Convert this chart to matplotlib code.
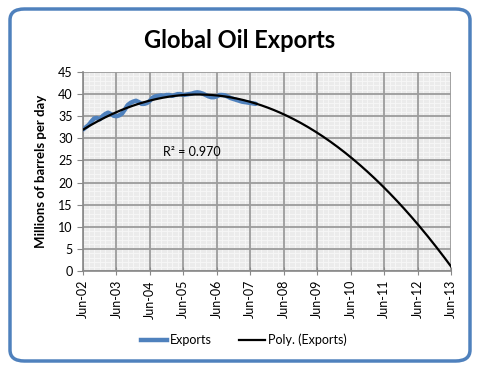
import numpy as np
import matplotlib
matplotlib.use("Agg")
import matplotlib.pyplot as plt
from matplotlib.patches import FancyBboxPatch
from matplotlib.lines import Line2D

plt.rcParams['font.family'] = ['Lato', 'DejaVu Sans']

# Tick labels (yearly, June)
year_labels = ["Jun-02", "Jun-03", "Jun-04", "Jun-05", "Jun-06", "Jun-07",
               "Jun-08", "Jun-09", "Jun-10", "Jun-11", "Jun-12", "Jun-13"]

# Monthly exports, Jun-02 .. Aug-07 (million barrels per day)
exports = [32.0, 32.5, 33.0, 33.8, 34.5, 34.6, 34.3, 35.0, 35.5, 35.8, 35.5, 35.1,
           35.0, 35.2, 35.6, 36.5, 37.5, 38.0, 38.3, 38.5, 38.2, 37.8, 37.8, 38.0,
           38.5, 39.2, 39.5, 39.6, 39.7, 39.6, 39.8, 39.8, 39.6, 39.8, 40.0, 40.0,
           39.8, 39.9, 40.0, 40.1, 40.3, 40.4, 40.3, 40.1, 39.8, 39.5, 39.3, 39.3,
           39.5, 39.8, 39.8, 39.7, 39.4, 39.1, 38.9, 38.7, 38.5, 38.3, 38.2, 38.1,
           38.0, 37.9, 37.8]

# Polynomial trend values read at each June
trend_values = [32.0, 35.9, 38.5, 39.8, 39.7, 38.2, 35.4, 31.3, 25.8, 18.9, 10.6, 1.0]

r2_text = "R² = 0.970"

fig = plt.figure(figsize=(4.8, 3.69), dpi=100)

# Rounded blue frame
frame = FancyBboxPatch((10/480, 8/369), 460/480, 352/369,
                       boxstyle="round,pad=0,rounding_size=0.03",
                       transform=fig.transFigure, facecolor='none',
                       edgecolor='#4F81BD', linewidth=2.5, zorder=0)
fig.patches.append(frame)

fig.text(0.5, 1 - 40/369, "Global Oil Exports", ha='center', va='center',
         fontsize=17, fontweight='bold')

ax = fig.add_axes([83/480, 1 - 271/369, (451 - 83)/480, (271 - 72)/369])
ax.set_facecolor('#ebebeb')

x_exp = np.arange(len(exports)) / 12.0
x_years = np.arange(len(year_labels))

coef = np.polyfit(x_years, trend_values, 2)
xt = np.linspace(0, len(year_labels) - 1, 300)
yt = np.polyval(coef, xt)

ax.plot(x_exp, exports, color='#4F81BD', linewidth=3.2, solid_capstyle='round', zorder=3)
ax.plot(xt, yt, color='black', linewidth=1.6, zorder=4)

nyr = len(year_labels) - 1
ax.set_xlim(0, nyr)
ax.set_ylim(0, 45)
ax.set_xticks(x_years)
ax.set_xticklabels(year_labels, rotation=90, fontsize=9)
ax.set_yticks(np.arange(0, 46, 5))
ax.tick_params(axis='y', labelsize=9, direction='out', length=4, color='#888888')
ax.tick_params(axis='x', direction='inout', length=6, color='#888888')

# fine background pattern lines (excluding major positions)
minor_x = [i / 6 for i in range(nyr * 6 + 1) if i % 6 != 0]
minor_y = [v for v in range(46) if v % 5 != 0]
for mx in minor_x:
    ax.axvline(mx, color='#f7f7f7', linewidth=0.6, zorder=0.5)
for my in minor_y:
    ax.axhline(my, color='#f7f7f7', linewidth=0.6, zorder=0.5)
ax.grid(which='major', color='#9c9c9c', linewidth=1.3, zorder=1)
ax.set_axisbelow(True)
for s in ['top', 'right']:
    ax.spines[s].set_visible(False)
ax.spines['left'].set_color('#888888')
ax.spines['bottom'].set_color('#888888')
ax.spines['left'].set_linewidth(1.2)
ax.spines['bottom'].set_linewidth(1.2)

ax.set_ylabel("Millions of barrels per day", fontsize=9.5, fontweight='bold', labelpad=8)

ax.text((163 - 83) / 33.45, 26.9, r2_text, fontsize=9, va='center', ha='left')

handles = [Line2D([0], [0], color='#4F81BD', linewidth=3.2),
           Line2D([0], [0], color='black', linewidth=1.6)]
fig.legend(handles, ["Exports", "Poly. (Exports)"], loc='center',
           bbox_to_anchor=(0.508, 1 - 340/369), ncol=2, frameon=False,
           fontsize=9, handlelength=2.1, columnspacing=2.2, handletextpad=0.2)

fig.savefig("out.png", dpi=100)
